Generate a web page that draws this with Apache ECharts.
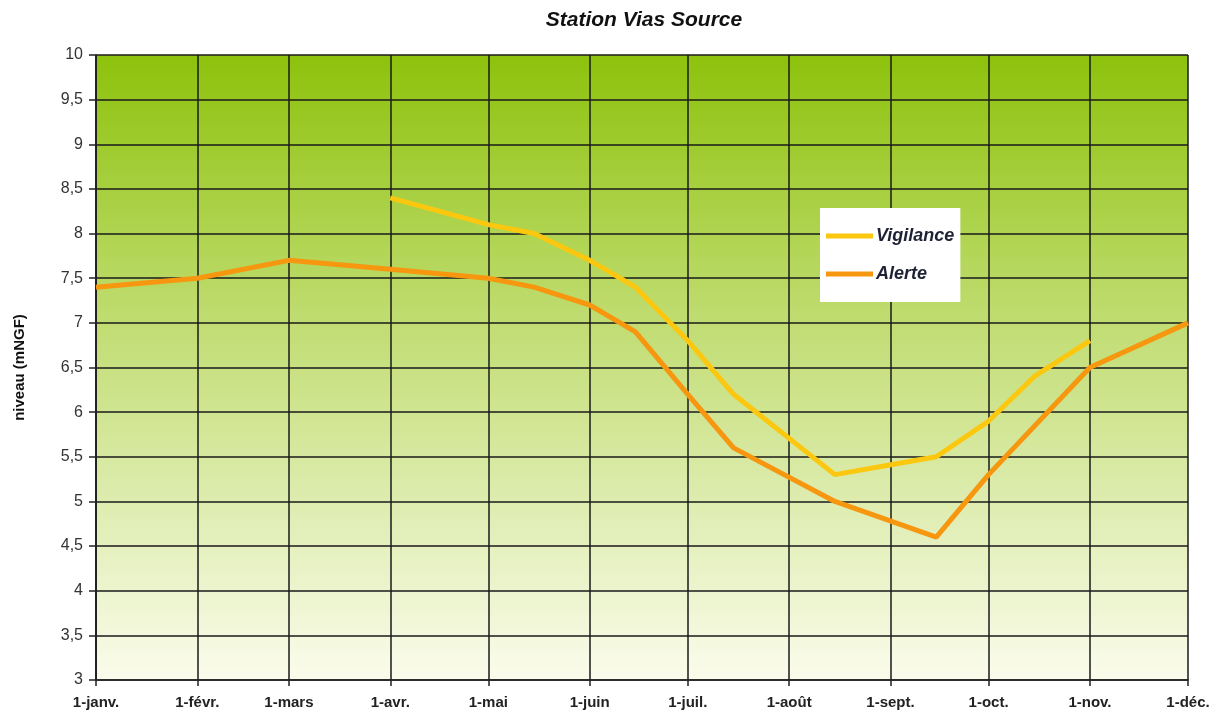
<!DOCTYPE html>
<html>
<head>
<meta charset="utf-8">
<script src="https://cdn.jsdelivr.net/npm/echarts@6/dist/echarts.min.js"></script>
<style>
  html, body { margin: 0; padding: 0; background: #fff; }
  #chart { width: 1220px; height: 716px; }
</style>
</head>
<body>
<div id="chart"></div>
<script>
// mois affichés sur l'axe x
const monthLabels = ["janv.", "févr.", "mars", "avr.", "mai", "juin", "juil.", "août", "sept.", "oct.", "nov.", "déc."];

// Vigilance
const vigilanceDates = ["2011-04-01", "2011-05-01", "2011-05-15", "2011-06-01", "2011-06-15", "2011-07-01",
  "2011-07-15", "2011-08-15", "2011-09-15", "2011-10-01", "2011-10-15", "2011-11-01"];
const vigilanceValues = [8.4, 8.1, 8.0, 7.7, 7.4, 6.8, 6.2, 5.3, 5.5, 5.9, 6.4, 6.8];

// Alerte
const alerteDates = ["2011-01-01", "2011-02-01", "2011-03-01", "2011-04-01", "2011-05-01", "2011-05-15",
  "2011-06-01", "2011-06-15", "2011-07-01", "2011-07-15", "2011-08-15", "2011-09-15", "2011-10-01",
  "2011-11-01", "2011-12-01"];
const alerteValues = [7.4, 7.5, 7.7, 7.6, 7.5, 7.4, 7.2, 6.9, 6.2, 5.6, 5.0, 4.6, 5.3, 6.5, 7.0];

function pairs(dates, values) {
  return dates.map(function (d, i) { return [d, values[i]]; });
}

let chart = echarts.init(document.getElementById("chart"));

let option = {
  animation: false,
  title: {
    text: "Station Vias Source",
    left: 639,
    top: 5,
    textAlign: "center",
    textStyle: {
      fontFamily: "Liberation Sans",
      fontSize: 21,
      fontWeight: "bold",
      fontStyle: "italic",
      color: "#111",
    },
  },
  legend: {
    orient: "vertical",
    left: 820,
    top: 208,
    backgroundColor: "#fff",
    padding: [19, 6, 19, 6],
    itemGap: 20,
    itemWidth: 47,
    itemHeight: 5,
    icon: "rect",
    textStyle: {
      fontFamily: "Liberation Sans",
      fontSize: 18,
      fontWeight: "bold",
      fontStyle: "italic",
      color: "#1f2235",
      width: 82,
      padding: [0, 0, 0, -2],
    },
    data: ["Vigilance", "Alerte"],
  },
  grid: {
    left: 96,
    right: 32,
    top: 55,
    bottom: 36,
    show: true,
    borderWidth: 0,
    backgroundColor: new echarts.graphic.LinearGradient(0, 0, 0, 1, [
      { offset: 0, color: "#8dc20c" },
      { offset: 0.45, color: "#c3de77" },
      { offset: 1, color: "#fbfcec" },
    ]),
  },
  xAxis: {
    type: "time",
    min: "2011-01-01",
    max: "2011-12-01",
    splitNumber: 11,
    minInterval: 28 * 86400000,
    axisLine: { lineStyle: { color: "#222", width: 1.5 } },
    axisTick: { show: true, length: 6, lineStyle: { color: "#222", width: 1.5 } },
    splitLine: { show: true, lineStyle: { color: "#1a1a1a", width: 1.5 } },
    axisLabel: {
      margin: 15,
      showMaxLabel: true,
      showMinLabel: true,
      fontFamily: "Liberation Sans",
      fontSize: 15,
      fontWeight: "bold",
      color: "#222",
      formatter: function (value) {
        let d = new Date(value);
        return "1-" + monthLabels[d.getMonth()];
      },
    },
  },
  yAxis: {
    type: "value",
    min: 3,
    max: 10,
    interval: 0.5,
    name: "niveau (mNGF)",
    nameLocation: "middle",
    nameGap: 69,
    nameTextStyle: {
      fontFamily: "Liberation Sans",
      fontSize: 15,
      fontWeight: "bold",
      color: "#111",
    },
    axisLine: { show: true, lineStyle: { color: "#222", width: 1.5 } },
    axisTick: { show: true, length: 7, lineStyle: { color: "#222", width: 1.5 } },
    splitLine: { show: true, lineStyle: { color: "#1a1a1a", width: 1.5 } },
    axisLabel: {
      margin: 13,
      fontFamily: "Liberation Sans",
      fontSize: 16,
      color: "#333",
      formatter: function (v) {
        return String(v).replace(".", ",");
      },
    },
  },
  series: [
    {
      name: "Vigilance",
      type: "line",
      showSymbol: false,
      data: pairs(vigilanceDates, vigilanceValues),
      lineStyle: { color: "#fcc70f", width: 5 },
      itemStyle: { color: "#fcc70f" },
    },
    {
      name: "Alerte",
      type: "line",
      showSymbol: false,
      data: pairs(alerteDates, alerteValues),
      lineStyle: { color: "#f7960f", width: 5 },
      itemStyle: { color: "#f7960f" },
    },
  ],
};

chart.setOption(option);
</script>
</body>
</html>
